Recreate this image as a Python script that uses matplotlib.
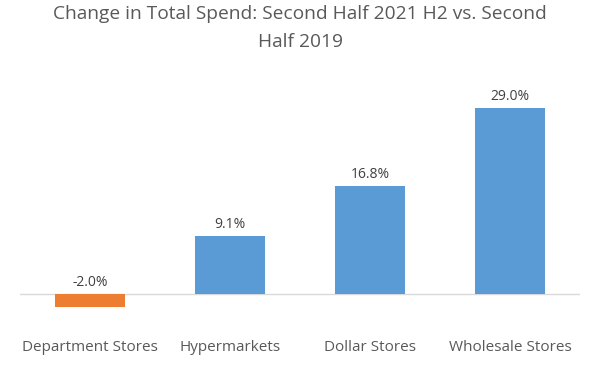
import matplotlib
matplotlib.use("Agg")
import matplotlib.pyplot as plt

# Datos del gráfico
categorias = ["Department Stores", "Hypermarkets", "Dollar Stores", "Wholesale Stores"]
cambios = [-2.0, 9.1, 16.8, 29.0]
titulo = "Change in Total Spend: Second Half 2021 H2 vs. Second\nHalf 2019"

azul = "#5B9BD5"
naranja = "#ED7D31"
gris = "#595959"

plt.rcParams["font.family"] = ["Open Sans", "DejaVu Sans"]

fig = plt.figure(figsize=(6, 3.76), dpi=100)
ax = fig.add_axes([20 / 600, 50 / 376, 560 / 600, 256 / 376])

colores = [naranja if v < 0 else azul for v in cambios]
x = range(len(categorias))
ax.bar(x, cambios, width=0.5, color=colores, zorder=2)

for xi, v in zip(x, cambios):
    ax.annotate(f"{v:.1f}%", (xi, max(v, 0)), xytext=(0, 3), textcoords="offset points",
                ha="center", va="bottom", fontsize=10, color="#404040")

ax.axhline(0, color="#D9D9D9", lw=1, zorder=1)
ax.set_xlim(-0.5, 3.5)
ax.set_ylim(-5, 35)
ax.set_yticks([])
ax.set_xticks(list(x))
ax.set_xticklabels(categorias, fontsize=11, color=gris)
ax.tick_params(axis="x", length=0, pad=10)
for s in ax.spines.values():
    s.set_visible(False)

fig.text(0.5, 1 - 5 / 376, titulo, ha="center", va="top", fontsize=13.8, color=gris,
         linespacing=1.7)

fig.savefig("out.png", dpi=100, facecolor="white")
